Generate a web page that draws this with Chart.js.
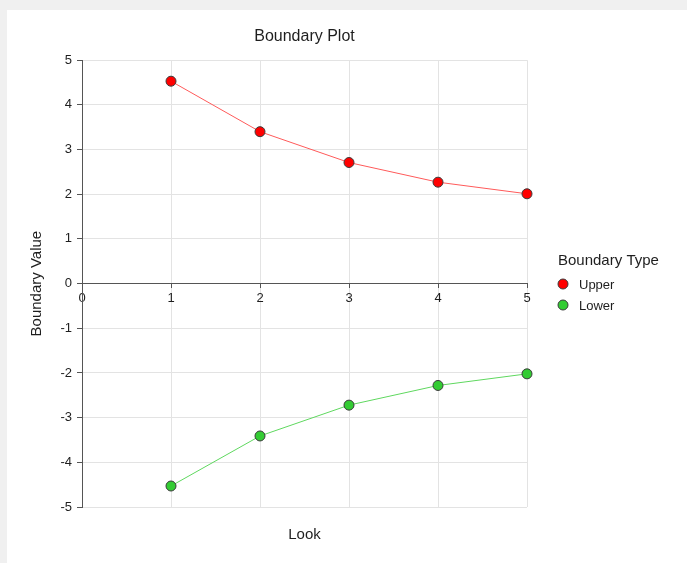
<!DOCTYPE html>
<html>
<head>
<meta charset="utf-8">
<script src="https://cdn.jsdelivr.net/npm/chart.js@4"></script>
<style>
  html, body { margin: 0; padding: 0; background: #f0f0f0; width: 687px; height: 563px; overflow: hidden; }
  #panel { position: absolute; left: 7px; top: 10px; width: 680px; height: 553px; background: #ffffff; }
  canvas { display: block; }
</style>
</head>
<body>
<div id="panel"><canvas id="c" width="680" height="553"></canvas></div>
<script>
// ---- data ----
const looks = [1, 2, 3, 4, 5];
const upperValues = [4.53, 3.40, 2.71, 2.27, 2.01];
const lowerValues = [-4.53, -3.41, -2.72, -2.28, -2.02];
const seriesNames = ['Upper', 'Lower'];
const xTicks = [0, 1, 2, 3, 4, 5];
const yTicks = [-5, -4, -3, -2, -1, 0, 1, 2, 3, 4, 5];
const chartTitle = 'Boundary Plot';
const xTitle = 'Look';
const yTitle = 'Boundary Value';
const legendTitle = 'Boundary Type';

const FONT = "'Liberation Sans', Arial, sans-serif";
const TXT = '#1e1e1e';

const legendPlugin = {
  id: 'customLegend',
  afterDraw(chart) {
    const ctx = chart.ctx;
    ctx.save();
    ctx.fillStyle = TXT;
    ctx.textBaseline = 'middle';
    ctx.textAlign = 'left';
    ctx.font = '15px ' + FONT;
    ctx.fillText(legendTitle, 551, 251);
    ctx.font = '13px ' + FONT;
    chart.data.datasets.forEach((ds, i) => {
      const cy = 274 + i * 21;
      ctx.beginPath();
      ctx.arc(556, cy, 5, 0, Math.PI * 2);
      ctx.fillStyle = ds.pointBackgroundColor;
      ctx.fill();
      ctx.lineWidth = 1;
      ctx.strokeStyle = ds.pointBorderColor;
      ctx.stroke();
      ctx.fillStyle = TXT;
      ctx.fillText(ds.label, 572, cy + 1);
    });
    ctx.restore();
  }
};

new Chart(document.getElementById('c'), {
  type: 'line',
  data: {
    datasets: [
      {
        label: seriesNames[0],
        data: looks.map((x, i) => ({ x, y: upperValues[i] })),
        borderColor: '#ff5a5a',
        borderWidth: 1,
        pointBackgroundColor: '#ff0000',
        pointBorderColor: '#3a3a3a',
        pointBorderWidth: 1,
        pointRadius: 5,
        tension: 0,
        clip: false
      },
      {
        label: seriesNames[1],
        data: looks.map((x, i) => ({ x, y: lowerValues[i] })),
        borderColor: '#5fd85f',
        borderWidth: 1,
        pointBackgroundColor: '#33cc33',
        pointBorderColor: '#3a3a3a',
        pointBorderWidth: 1,
        pointRadius: 5,
        tension: 0,
        clip: false
      }
    ]
  },
  options: {
    responsive: false,
    animation: false,
    layout: { padding: { left: 0, right: 160, top: 0, bottom: 0 } },
    plugins: {
      legend: { display: false },
      tooltip: { enabled: false },
      title: {
        display: true,
        text: chartTitle,
        fullSize: false,
        color: TXT,
        font: { family: FONT, size: 16, weight: 'normal' },
        padding: { top: 17, bottom: 14 }
      }
    },
    scales: {
      x: {
        type: 'linear',
        min: 0, max: 5,
        position: { y: 0 },
        afterBuildTicks(s) { s.ticks = xTicks.map(v => ({ value: v })); },
        afterFit(s) { s.paddingLeft = 0; s.paddingRight = 0; },
        ticks: { color: TXT, font: { family: FONT, size: 13 }, padding: 3, maxRotation: 0 },
        grid: { color: '#e3e3e3', tickColor: '#555555', tickLength: 4, lineWidth: 1 },
        border: { display: true, color: '#555555', width: 1 }
      },
      xb: {
        type: 'linear',
        min: 0, max: 5,
        position: 'bottom',
        afterFit(s) { s.height = 56; s.paddingLeft = 0; s.paddingRight = 0; },
        ticks: { display: false },
        grid: { display: false, drawTicks: false },
        border: { display: false },
        title: { display: true, text: xTitle, color: TXT, font: { family: FONT, size: 15 }, padding: { top: 19, bottom: 19 } }
      },
      y: {
        type: 'linear',
        min: -5, max: 5,
        position: 'left',
        afterBuildTicks(s) { s.ticks = yTicks.map(v => ({ value: v })); },
        afterFit(s) { s.width = 75; },
        ticks: { color: TXT, font: { family: FONT, size: 13 }, padding: 5 },
        grid: { color: '#e3e3e3', tickColor: '#555555', tickLength: 5, lineWidth: 1 },
        border: { display: true, color: '#555555', width: 1 },
        title: { display: true, text: yTitle, color: TXT, font: { family: FONT, size: 15 }, padding: { top: 21, bottom: 0 } }
      }
    }
  },
  plugins: [legendPlugin]
});
</script>
</body>
</html>
